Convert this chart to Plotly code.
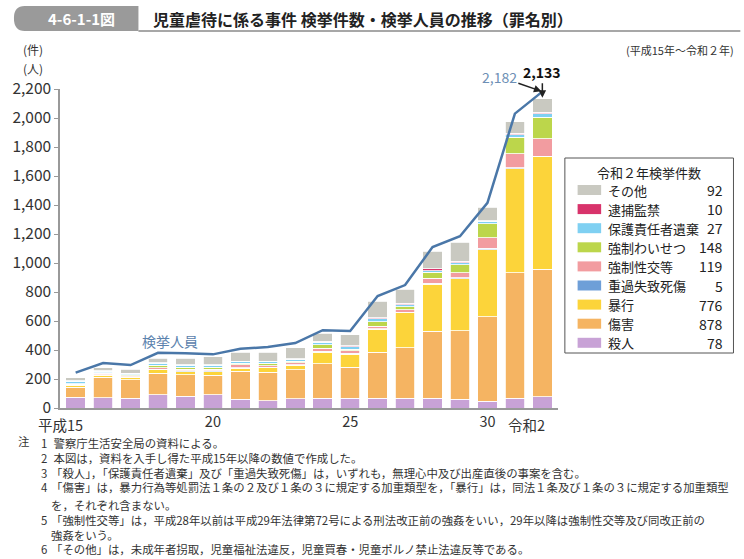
import plotly.graph_objects as go

# ---------------- data ----------------
years = ["15", "16", "17", "18", "19", "20", "21", "22", "23", "24", "25",
         "26", "27", "28", "29", "30", "元", "2"]
tick_idx = [5, 10, 15]
tick_text = ["20", "25", "30"]
era_idx = [0, 17]
era_text = ["平成15", "令和2"]
era_shift = [9, 5]

satsujin = [74, 71, 67, 90, 80, 92, 62, 51, 64, 69, 69, 69, 69, 69, 62, 46, 69, 78]
shougai = [69, 140, 128, 150, 150, 135, 190, 195, 200, 235, 212, 317, 347, 460, 470, 585, 865, 878]
boukou = [14, 16, 16, 23, 20, 23, 23, 30, 30, 80, 90, 156, 240, 325, 360, 462, 715, 776]
jukashitsu = [3, 3, 4, 5, 6, 7, 4, 5, 4, 6, 5, 5, 6, 7, 6, 8, 7, 5]
kyouseiseikou = [5, 8, 8, 10, 12, 10, 18, 12, 14, 23, 18, 18, 14, 34, 34, 74, 99, 119]
waisetsu = [3, 6, 6, 18, 14, 14, 10, 15, 10, 23, 12, 30, 23, 41, 55, 97, 113, 148]
hogo = [18, 10, 8, 12, 12, 14, 14, 12, 14, 18, 18, 20, 12, 10, 14, 16, 18, 27]
taiho = [1, 2, 2, 3, 5, 4, 3, 3, 4, 6, 5, 8, 11, 16, 12, 5, 8, 10]
sonota = [20, 22, 28, 31, 43, 53, 60, 60, 74, 57, 76, 113, 96, 119, 129, 91, 80, 92]

jinin = [244, 310, 296, 381, 377, 370, 409, 420, 448, 537, 531, 772, 848,
         1110, 1185, 1415, 2030, 2182]

series = [
    ("殺人", satsujin, "#c8a2d6"),
    ("傷害", shougai, "#f5b462"),
    ("暴行", boukou, "#fcd43a"),
    ("重過失致死傷", jukashitsu, "#6e9fd8"),
    ("強制性交等", kyouseiseikou, "#f29ca0"),
    ("強制わいせつ", waisetsu, "#bcd64b"),
    ("保護責任者遺棄", hogo, "#7fd0f2"),
    ("逮捕監禁", taiho, "#d8336b"),
    ("その他", sonota, "#c9c9c1"),
]

FONT = "Noto Sans CJK JP"

# plot area in pixels
L, R, T, B = 50, 558, 89, 408


def px(x):
    return (x - L) / (R - L)


def py(y):
    return (B - y) / (B - T)


def label(x, y, text, size, color="#333", xanchor="left", yanchor="middle", **kw):
    return dict(xref="paper", yref="paper", x=px(x), y=py(y), text=text,
                xanchor=xanchor, yanchor=yanchor, showarrow=False,
                font=dict(family=FONT, size=size, color=color), **kw)


xs = list(range(len(years)))
fig = go.Figure()
for name, vals, col in series:
    fig.add_trace(go.Bar(x=xs, y=vals, name=name, marker_color=col,
                         marker_line_color="white", marker_line_width=0.8,
                         showlegend=False))

fig.add_trace(go.Scatter(x=xs, y=jinin, mode="lines", name="検挙人員",
                         line=dict(color="#4a77a8", width=2.5), showlegend=False))

shapes = []
annotations = []

# title tab
shapes.append(dict(type="path", xref="paper", yref="paper",
                   path=f"M {px(130)},{py(6)} L {px(14)},{py(6)} Q {px(3)},{py(6)} {px(3)},{py(18)} "
                        f"Q {px(3)},{py(31)} {px(14)},{py(31)} L {px(130)},{py(31)} Z",
                   fillcolor="#9a9a9a", line=dict(width=0), layer="below"))
shapes.append(dict(type="line", xref="paper", yref="paper",
                   x0=px(130), x1=px(744), y0=py(31), y1=py(31),
                   line=dict(color="#8a8a8a", width=1.5)))
annotations.append(label(72, 18.5, "<b>4-6-1-1図</b>", 15, "white", xanchor="center"))
annotations.append(label(143, 18.5, "<b>児童虐待に係る事件 検挙件数・検挙人員の推移（罪名別）</b>",
                         16, "#222"))
annotations.append(label(740, 50, "(平成15年～令和２年)", 11, xanchor="right"))
annotations.append(label(10, 50, "(件)", 12))
annotations.append(label(10, 68, "(人)", 12))

# era labels on the x axis (number part centred under the bar)
for xi, txt, sh in zip(era_idx, era_text, era_shift):
    annotations.append(dict(xref="x", yref="paper", x=xi, y=py(424), xanchor="right",
                            yanchor="middle", xshift=sh, text=txt, showarrow=False,
                            font=dict(family=FONT, size=14.5, color="#333")))

# line label and callouts
annotations.append(label(162, 341, "検挙人員", 14, "#5b82ad", xanchor="center"))
annotations.append(dict(x=17, y=jinin[-1], xref="x", yref="y",
                        text=f"{jinin[-1]:,}", showarrow=True, arrowhead=2,
                        arrowsize=1, arrowwidth=1.5, arrowcolor="#222",
                        ax=-43, ay=-15, standoff=1,
                        font=dict(family=FONT, size=14, color="#6d8fb5")))
total_r2 = sum(s[1][-1] for s in series)
annotations.append(dict(x=17, y=total_r2, xref="x", yref="y",
                        text=f"<b>{total_r2:,}</b>", showarrow=True, arrowhead=2,
                        arrowsize=1, arrowwidth=1.5, arrowcolor="#222",
                        ax=0, ay=-27, standoff=1,
                        font=dict(family=FONT, size=14, color="#111")))

# custom legend box
shapes.append(dict(type="rect", xref="paper", yref="paper",
                   x0=px(565), x1=px(737), y0=py(158), y1=py(353),
                   line=dict(color="#555", width=1), fillcolor="white", layer="below"))
annotations.append(label(651, 172, "令和２年検挙件数", 13, "#222", xanchor="center"))
for i, (name, vals, col) in enumerate(reversed(series)):
    yc = 190 + 19.1 * i
    shapes.append(dict(type="rect", xref="paper", yref="paper",
                       x0=px(578), x1=px(602), y0=py(yc - 5), y1=py(yc + 5),
                       fillcolor=col, line=dict(width=0)))
    annotations.append(label(607, yc, name, 13, "#222"))
    annotations.append(label(728, yc, f"{vals[-1]:,}", 14, "#222", xanchor="right"))

# notes: two multi-line blocks (numbers column + text column)
NB = "\u00a0"
notes_a_num = ["1", "2", "3", "4"]
notes_a_txt = [
    NB + "警察庁生活安全局の資料による。",
    NB + "本図は，資料を入手し得た平成15年以降の数値で作成した。",
    "「殺人」，「保護責任者遺棄」及び「重過失致死傷」は，いずれも，無理心中及び出産直後の事案を含む。",
    "「傷害」は，暴力行為等処罰法１条の２及び１条の３に規定する加重類型を，「暴行」は，同法１条及び１条の３に規定する加重類型",
]
notes_b_num = [NB, "5", NB, "6"]
notes_b_txt = [
    "を，それぞれ含まない。",
    "「強制性交等」は，平成28年以前は平成29年法律第72号による刑法改正前の強姦をいい，29年以降は強制性交等及び同改正前の",
    "強姦をいう。",
    "「その他」は，未成年者拐取，児童福祉法違反，児童買春・児童ポルノ禁止法違反等である。",
]
NOTE_SIZE = 11.4
annotations.append(label(5, 441, "注", NOTE_SIZE))
annotations.append(label(29, 464.5, "<br>".join(notes_a_num), NOTE_SIZE, align="left"))
annotations.append(label(29, 526.5, "<br>".join(notes_b_num), NOTE_SIZE, align="left"))
annotations.append(label(39, 464.5, "<br>".join(notes_a_txt), NOTE_SIZE, align="left"))
annotations.append(label(39, 526.5, "<br>".join(notes_b_txt), NOTE_SIZE, align="left"))

fig.update_layout(
    width=744, height=559,
    margin=dict(l=L, r=744 - R, t=T, b=559 - B),
    barmode="stack", bargap=0.29,
    plot_bgcolor="rgba(0,0,0,0)", paper_bgcolor="white",
    font=dict(family=FONT, color="#333"),
    shapes=shapes, annotations=annotations,
    xaxis=dict(range=[-0.57, 17.57], tickmode="array", tickvals=tick_idx,
               ticktext=tick_text, showline=True, linecolor="#999", linewidth=1.5,
               ticks="", showgrid=False, zeroline=False,
               tickfont=dict(family=FONT, size=14.5, color="#333")),
    yaxis=dict(range=[0, 2200], tickmode="linear", dtick=200, tick0=0,
               tickformat=",d", showline=True, linecolor="#999", linewidth=1.5,
               ticks="outside", ticklen=4, tickcolor="#999", showgrid=False,
               zeroline=False, tickfont=dict(family=FONT, size=15.5, color="#333")),
)

fig.write_html("out.html", config={"displayModeBar": False},
               post_script="document.body.style.margin='0';document.body.style.padding='0';")
